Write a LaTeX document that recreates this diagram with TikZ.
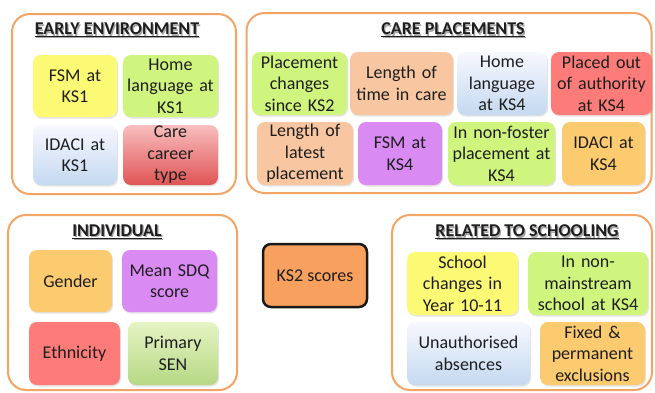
\documentclass[tikz,border=0pt]{standalone}
\usepackage{fontspec}
\setmainfont{Carlito}
\usetikzlibrary{shadows}
\definecolor{outerc}{HTML}{F4A465}
\definecolor{cyellow}{HTML}{FCFA74}
\definecolor{cgreen}{HTML}{D0F57E}
\definecolor{cpeach}{HTML}{F8C6A0}
\definecolor{cred}{HTML}{FD7C7A}
\definecolor{cpurple}{HTML}{D98BF3}
\definecolor{cgold}{HTML}{FCCB70}
\definecolor{ckstwo}{HTML}{F8A05E}
\definecolor{txt}{HTML}{1E1E1E}
\tikzset{
  outerbox/.style={draw=outerc, line width=2pt, rounded corners=18pt, inner sep=0pt},
  cbox/.style={rounded corners=8pt, inner xsep=2pt, inner ysep=0pt, align=center,
    text=txt, font=\fontsize{18}{21.5}\selectfont,
    drop shadow={opacity=0.22, shadow xshift=1pt, shadow yshift=-1.5pt}},
  bluegrad/.style={top color=blue!3!white, bottom color={rgb,255:red,196;green,217;blue,240}},
  redgrad/.style={top color={rgb,255:red,248;green,190;blue,190}, bottom color={rgb,255:red,224;green,84;blue,84}},
  greengrad/.style={top color={rgb,255:red,230;green,244;blue,196}, bottom color={rgb,255:red,182;green,216;blue,132}},
  titletext/.style={font=\bfseries\fontsize{18}{21}\selectfont, text=txt, inner sep=0pt},
  titleshadow/.style={font=\bfseries\fontsize{18}{21}\selectfont, text=black!35, inner sep=0pt}
}
\begin{document}
\begin{tikzpicture}[x=1pt,y=-1pt]
\useasboundingbox (0,0) rectangle (655,392);
% ---------- EARLY ENVIRONMENT
\node[outerbox, minimum width=224pt, minimum height=180pt] (ee) at (124,104) {};
\node[titleshadow] (eets) at (118.2,31.2) {\underline{EARLY ENVIRONMENT}};
\node[titletext] (eet) at (117,30) {\underline{EARLY ENVIRONMENT}};
\node[cbox, fill=cyellow, minimum width=84pt, minimum height=62pt, text width=80pt] (fsm1) at (75,86) {FSM at\\KS1};
\node[cbox, fill=cgreen, minimum width=95pt, minimum height=62pt, text width=91pt] (hl1) at (170.5,86) {Home\\language at\\KS1};
\node[cbox, bluegrad, minimum width=84pt, minimum height=60pt, text width=80pt] (id1) at (75,155) {IDACI at\\KS1};
\node[cbox, redgrad, minimum width=95pt, minimum height=60pt, text width=91pt] (cc) at (170.5,155) {Care\\career\\type};
% ---------- CARE PLACEMENTS
\node[outerbox, minimum width=405pt, minimum height=180pt] (cp) at (449,103) {};
\node[titleshadow] (cpts) at (454.2,31.2) {\underline{CARE PLACEMENTS}};
\node[titletext] (cpt) at (453,30) {\underline{CARE PLACEMENTS}};
\node[cbox, fill=cgreen, minimum width=95pt, minimum height=63pt, text width=91pt] (pc) at (299.5,83.5) {Placement\\changes\\since KS2};
\node[cbox, fill=cpeach, minimum width=103pt, minimum height=63pt, text width=99pt] (lt) at (401.5,83.5) {Length of\\time in care};
\node[cbox, bluegrad, minimum width=90pt, minimum height=63pt, text width=86pt] (hl4) at (502,83.5) {Home\\language\\at KS4};
\node[cbox, fill=cred, minimum width=99pt, minimum height=63pt, text width=97pt] (po) at (601.5,83.5) {Placed out\\of authority\\at KS4};
\node[cbox, fill=cpeach, minimum width=96pt, minimum height=63pt, text width=92pt] (ll) at (305,153.5) {Length of\\latest\\placement};
\node[cbox, fill=cpurple, minimum width=84pt, minimum height=63pt, text width=80pt] (fsm4) at (400,153.5) {FSM at\\KS4};
\node[cbox, fill=cgreen, minimum width=107pt, minimum height=63pt, text width=103pt] (nf) at (501.5,153.5) {In non-foster\\placement at\\KS4};
\node[cbox, fill=cgold, minimum width=83pt, minimum height=63pt, text width=79pt] (id4) at (603.5,153.5) {IDACI at\\KS4};
% ---------- INDIVIDUAL
\node[outerbox, minimum width=229pt, minimum height=175pt] (ind) at (122.5,302.5) {};
\node[titleshadow] (indts) at (118.2,233.2) {\underline{INDIVIDUAL}};
\node[titletext] (indt) at (117,232) {\underline{INDIVIDUAL}};
\node[cbox, fill=cgold, minimum width=83pt, minimum height=62pt, text width=79pt] (gen) at (70.5,281) {Gender};
\node[cbox, fill=cpurple, minimum width=95pt, minimum height=62pt, text width=91pt] (sdq) at (169.5,281) {Mean SDQ\\score};
\node[cbox, fill=cred, minimum width=91pt, minimum height=63pt, text width=87pt] (eth) at (74.5,353.5) {Ethnicity};
\node[cbox, greengrad, minimum width=90pt, minimum height=63pt, text width=86pt] (sen) at (173,353.5) {Primary\\SEN};
% ---------- KS2
\node[rounded corners=8pt, draw=black!90, line width=2.5pt, fill=ckstwo, minimum width=104pt, minimum height=63pt, text=txt, font=\fontsize{18}{21.5}\selectfont] (ks2) at (315,275.5) {KS2 scores};
% ---------- RELATED TO SCHOOLING
\node[outerbox, minimum width=260pt, minimum height=175pt] (rs) at (522,302.5) {};
\node[titleshadow] (rsts) at (528.2,233.2) {\underline{RELATED TO SCHOOLING}};
\node[titletext] (rst) at (527,232) {\underline{RELATED TO SCHOOLING}};
\node[cbox, fill=cyellow, minimum width=111pt, minimum height=63pt, text width=107pt] (sc) at (462.5,283.5) {School\\changes in\\Year 10-11};
\node[cbox, fill=cgreen, minimum width=120pt, minimum height=63pt, text width=116pt] (nm) at (588,283.5) {In non-\\mainstream\\school at KS4};
\node[cbox, bluegrad, minimum width=123pt, minimum height=63pt, text width=119pt] (ua) at (468.5,353.5) {Unauthorised\\absences};
\node[cbox, fill=cgold, minimum width=105pt, minimum height=63pt, text width=101pt] (fx) at (592.5,353.5) {Fixed \&\\permanent\\exclusions};
\end{tikzpicture}
\end{document}
